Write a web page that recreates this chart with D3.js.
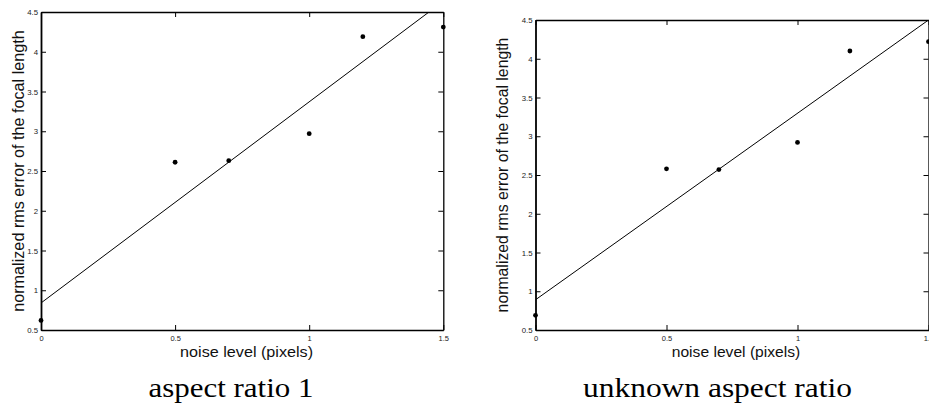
<!DOCTYPE html>
<html>
<head>
<meta charset="utf-8">
<script src="https://cdn.jsdelivr.net/npm/d3@7/dist/d3.min.js"></script>
<style>
  html, body { margin: 0; padding: 0; background: #fff; }
  svg { display: block; }
</style>
</head>
<body>
<svg id="chart" width="929" height="407"></svg>
<script>
// ---- data ----
const noiseLevels = [0, 0.5, 0.7, 1.0, 1.2, 1.5];
const errAspect1 = [0.62, 2.61, 2.63, 2.97, 4.19, 4.31];
const errUnknown = [0.69, 2.58, 2.57, 2.92, 4.10, 4.22];
const fitAspect1 = [[0, 0.84], [1.5, 4.635]];
const fitUnknown = [[0, 0.89], [1.5, 4.50]];
const xTicks = [0, 0.5, 1, 1.5];
const xTickLabels = ["0", "0.5", "1", "1.5"];
const yTicks = [0.5, 1, 1.5, 2, 2.5, 3, 3.5, 4, 4.5];
const yTickLabels = ["0.5", "1", "1.5", "2", "2.5", "3", "3.5", "4", "4.5"];
const titles = ["aspect ratio 1", "unknown aspect ratio"];
const xLabel = "noise level (pixels)";
const yLabel = "normalized rms error of the focal length";

const svg = d3.select("#chart");

const panels = [
  { left: 41, right: 443.3, top: 12, bottom: 330, vals: errAspect1, fit: fitAspect1, title: titles[0],
    yLabX: 24, xLabCx: 246.6, xLabLen: 133, yLabSize: 16.2, titleX: 231, titleLen: 165 },
  { left: 535.5, right: 928.5, top: 20, bottom: 330, vals: errUnknown, fit: fitUnknown, title: titles[1],
    yLabX: 508, xLabCx: 736, xLabLen: 128.5, yLabSize: 15.8, titleX: 717.5, titleLen: 269 }
];

panels.forEach((p, i) => {
  const x = d3.scaleLinear().domain([0, 1.5]).range([p.left, p.right]);
  const y = d3.scaleLinear().domain([0.5, 4.5]).range([p.bottom, p.top]);
  const g = svg.append("g");
  const tickLen = 5;

  const fmtX = d => xTickLabels[xTicks.indexOf(d)];
  const fmtY = d => yTickLabels[yTicks.indexOf(d)];

  const bottom = g.append("g").attr("transform", `translate(0,${p.bottom})`)
    .call(d3.axisBottom(x).tickValues(xTicks).tickFormat(fmtX).tickSizeInner(-tickLen).tickSizeOuter(0).tickPadding(5.5));
  const top = g.append("g").attr("transform", `translate(0,${p.top})`)
    .call(d3.axisTop(x).tickValues(xTicks).tickFormat("").tickSizeInner(-tickLen).tickSizeOuter(0));
  const left = g.append("g").attr("transform", `translate(${p.left},0)`)
    .call(d3.axisLeft(y).tickValues(yTicks).tickFormat(fmtY).tickSizeInner(-tickLen).tickSizeOuter(0).tickPadding(3));
  const right = g.append("g").attr("transform", `translate(${p.right},0)`)
    .call(d3.axisRight(y).tickValues(yTicks).tickFormat("").tickSizeInner(-tickLen).tickSizeOuter(0));

  [bottom, top, left, right].forEach(a => {
    a.select(".domain").attr("stroke", "#000").attr("stroke-width", 1.3);
    a.selectAll(".tick line").attr("stroke", "#000").attr("stroke-width", 1);
    a.selectAll("text").attr("font-family", "Liberation Sans, Arial, sans-serif")
      .attr("font-size", 7.8).attr("fill", "#222");
  });
  bottom.selectAll("text").attr("font-size", 7.5);
  left.select(".domain").attr("stroke-width", 1.8);

  const clipId = "clip" + i;
  svg.append("clipPath").attr("id", clipId).append("rect")
    .attr("x", p.left).attr("y", p.top).attr("width", p.right - p.left).attr("height", p.bottom - p.top);

  g.append("path")
    .attr("clip-path", `url(#${clipId})`)
    .attr("d", d3.line().x(d => x(d[0])).y(d => y(d[1]))(p.fit))
    .attr("fill", "none").attr("stroke", "#000").attr("stroke-width", 1);

  g.selectAll("circle.pt").data(noiseLevels.map((n, k) => [n, p.vals[k]])).enter()
    .append("circle").attr("class", "pt")
    .attr("cx", d => x(d[0])).attr("cy", d => y(d[1])).attr("r", 2.4).attr("fill", "#000");

  g.append("text").text(xLabel)
    .attr("x", p.xLabCx).attr("y", 357)
    .attr("text-anchor", "middle")
    .attr("textLength", p.xLabLen).attr("lengthAdjust", "spacingAndGlyphs")
    .attr("font-family", "Liberation Sans, Arial, sans-serif").attr("font-size", 14.5).attr("fill", "#111");

  g.append("text").text(yLabel)
    .attr("transform", `translate(${p.yLabX},${(p.top + p.bottom) / 2}) rotate(-90)`)
    .attr("text-anchor", "middle")
    .attr("font-family", "Liberation Sans, Arial, sans-serif").attr("font-size", p.yLabSize).attr("fill", "#111");

  g.append("text").text(p.title)
    .attr("x", p.titleX).attr("y", 397)
    .attr("text-anchor", "middle")
    .attr("textLength", p.titleLen).attr("lengthAdjust", "spacingAndGlyphs")
    .attr("font-family", "Liberation Serif, Times New Roman, serif").attr("font-size", 27.5).attr("fill", "#000");
});
</script>
</body>
</html>
